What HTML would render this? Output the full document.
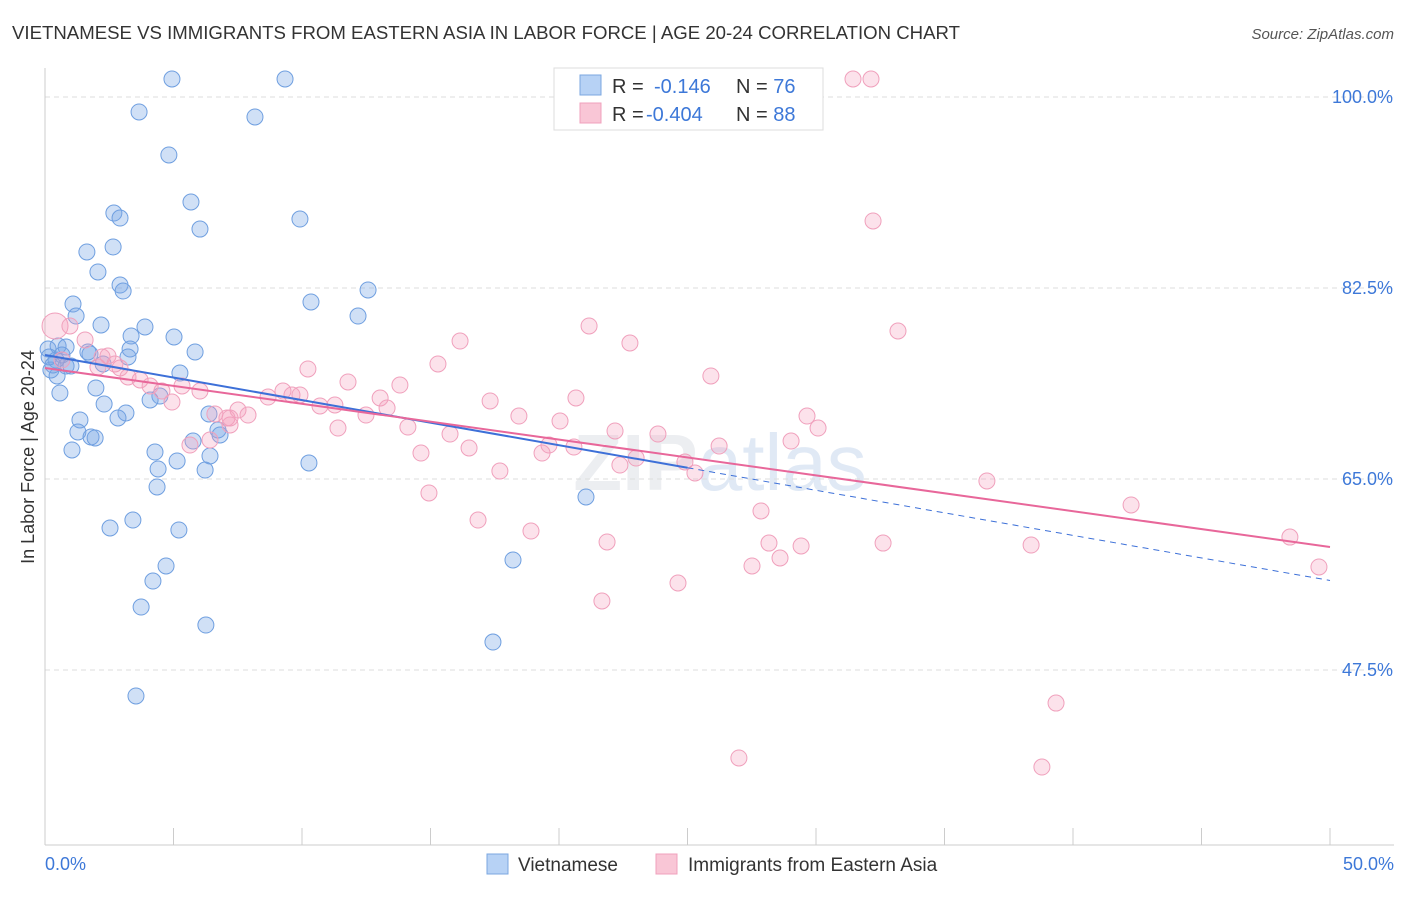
<!DOCTYPE html>
<html><head><meta charset="utf-8"><style>
body{margin:0;background:#fff;font-family:"Liberation Sans",sans-serif;}
svg text{font-family:"Liberation Sans",sans-serif;}
</style></head><body>
<svg id="chart" width="1406" height="892">
<text x="12" y="39" font-size="18" fill="#333" textLength="948" lengthAdjust="spacingAndGlyphs">VIETNAMESE VS IMMIGRANTS FROM EASTERN ASIA IN LABOR FORCE | AGE 20-24 CORRELATION CHART</text>
<text x="1394" y="39" font-size="15" fill="#555" font-style="italic" text-anchor="end">Source: ZipAtlas.com</text>
<text x="720" y="490" font-size="80" fill="#eceef1" text-anchor="middle" font-weight="bold">ZIP<tspan fill="#e0e9f5" font-weight="normal">atlas</tspan></text>
<g id="grid"></g>
<g id="axes"></g>
<g id="marks"></g>
<g id="trends"></g>
<text transform="translate(34,457) rotate(-90)" font-size="18" fill="#333" text-anchor="middle">In Labor Force | Age 20-24</text>
<g>
<rect x="554" y="68" width="269" height="62" fill="#fff" stroke="#ddd"/>
<rect x="580" y="75" width="21" height="20" fill="#b7d2f5" stroke="#7ba7e0"/>
<rect x="580" y="103" width="21" height="20" fill="#f9c6d6" stroke="#f0a0bc"/>
<text x="612" y="93" font-size="20" fill="#333">R = <tspan fill="#3d78d8" x="654">-0.146</tspan><tspan x="736" fill="#333">N = </tspan><tspan fill="#3d78d8">76</tspan></text>
<text x="612" y="121" font-size="20" fill="#333">R = <tspan fill="#3d78d8" x="646">-0.404</tspan><tspan x="736" fill="#333">N = </tspan><tspan fill="#3d78d8">88</tspan></text>
</g>
<g>
<rect x="487" y="854" width="21" height="20" fill="#b7d2f5" stroke="#7ba7e0"/>
<text x="518" y="871" font-size="19" fill="#333">Vietnamese</text>
<rect x="656" y="854" width="21" height="20" fill="#f9c6d6" stroke="#f0a0bc"/>
<text x="688" y="871" font-size="19" fill="#333">Immigrants from Eastern Asia</text>
</g>
</svg>
<script>
const yTicks=[100,82.5,65,47.5];
const yTickLabels=["100.0%","82.5%","65.0%","47.5%"];
const xTickVals=[0,5,10,15,20,25,30,35,40,45,50];
const xEndLabels=["0.0%","50.0%"];
const blueX=[4.94,9.34,3.66,8.17,4.82,5.68,2.68,2.92,9.92,6.03,1.63,2.65,2.06,2.92,3.04,12.57,1.09,10.35,1.21,12.18,2.18,3.89,3.35,5.02,0.12,0.51,0.82,1.75,1.67,3.31,3.23,5.84,0.43,0.82,0.23,1.01,2.26,0.47,5.25,1.98,0.58,4.47,4.09,2.30,3.15,6.38,2.84,1.36,1.28,6.73,1.79,1.95,6.81,5.76,1.05,4.28,6.42,5.14,4.40,6.23,10.27,4.36,21.05,3.42,2.53,5.21,4.71,4.20,3.74,6.26,18.21,17.43,3.54,0.16,0.31,0.66];
const blueY=[101.65,101.65,98.63,98.17,94.69,90.38,89.37,88.91,88.82,87.90,85.80,86.26,83.97,82.77,82.22,82.32,81.03,81.22,79.93,79.93,79.11,78.93,78.10,78.01,76.91,77.19,77.09,76.45,76.64,76.91,76.18,76.64,75.90,75.35,74.99,75.35,75.54,74.44,74.71,73.34,72.88,72.60,72.24,71.87,71.05,70.96,70.59,70.41,69.31,69.49,68.85,68.76,69.03,68.48,67.66,67.47,67.11,66.65,65.92,65.82,66.47,64.27,63.35,61.24,60.51,60.33,57.03,55.65,53.27,51.62,57.58,50.06,45.12,76.18,75.44,76.36];
const pinkX=[31.44,32.14,32.22,33.19,21.17,22.76,16.15,15.29,10.23,25.91,11.79,13.81,20.66,17.32,13.04,18.44,13.31,11.28,10.70,12.49,20.04,14.12,22.18,23.85,19.61,19.34,20.58,16.50,15.76,14.63,11.40,26.23,30.08,29.03,29.65,23.00,24.90,22.37,17.70,25.29,14.94,16.85,18.91,21.87,27.86,27.51,28.17,28.60,29.42,32.61,36.65,42.26,38.37,48.44,49.57,24.63,21.67,39.34,27.00,38.79,0.39,0.97,1.56,0.66,2.22,2.45,2.92,3.23,3.70,4.09,4.55,4.94,5.33,6.03,6.61,7.08,7.51,7.90,8.68,9.26,9.61,9.92,5.64,6.42,7.20,2.06,2.72,7.20];
const pinkY=[101.65,101.65,88.64,78.56,79.02,77.46,77.64,75.54,75.08,74.44,73.89,73.61,72.42,72.15,72.42,70.77,71.50,71.78,71.69,70.86,70.31,69.76,69.40,69.12,68.11,67.38,67.93,67.84,69.12,67.38,69.67,68.02,69.67,68.48,70.77,66.92,66.56,66.28,65.73,65.55,63.72,61.24,60.23,59.23,62.07,57.03,59.13,57.76,58.86,59.13,64.82,62.62,58.95,59.68,56.94,55.47,53.82,44.47,39.44,38.61,79.02,79.02,77.74,75.90,76.18,76.27,75.17,74.35,74.07,73.52,73.06,72.05,73.52,73.06,70.96,70.59,71.32,70.86,72.51,73.06,72.70,72.70,68.11,68.57,69.95,75.26,75.54,70.59];
const blueTrend=[76.36,55.7];
const blueSolidEnd=25;
const pinkTrend=[75.17,58.77];

const NS="http://www.w3.org/2000/svg";
const sx=v=>45+v*25.7;
const sy=v=>97+(100-v)*10.914;
function mk(tag,attrs,parent){const e=document.createElementNS(NS,tag);for(const k in attrs)e.setAttribute(k,attrs[k]);document.getElementById(parent).appendChild(e);return e;}

yTicks.forEach((t,i)=>{
  const g=mk('line',{x1:45,x2:1394,y1:sy(t),y2:sy(t),stroke:'#ddd','stroke-dasharray':'5,4'},'grid');
  
  
  const l=mk('text',{x:1393,y:sy(t)+6,'font-size':18,fill:'#3d78d8','text-anchor':'end'},'grid');
  l.textContent=yTickLabels[i];
  
  
});
const ax=mk('line',{x1:45,x2:45,y1:68,y2:845,stroke:'#ccc'},'axes');


const bx=mk('line',{x1:45,x2:1394,y1:845,y2:845,stroke:'#ccc'},'axes');


xTickVals.forEach(v=>{
  const t=mk('line',{x1:sx(v),x2:sx(v),y1:828,y2:845,stroke:'#ccc'},'axes');
  
  
});
const xl0=mk('text',{x:45,y:870,'font-size':18,fill:'#3d78d8'},'axes');xl0.textContent=xEndLabels[0];


const xl1=mk('text',{x:1394,y:870,'font-size':18,fill:'#3d78d8','text-anchor':'end'},'axes');xl1.textContent=xEndLabels[1];



blueX.forEach((x,i)=>{
  const c=mk('circle',{cx:sx(x),cy:sy(blueY[i]),r:8,fill:'rgba(120,165,230,0.35)',stroke:'#6f9fe0','stroke-width':1},'marks');
  
  
});
pinkX.forEach((x,i)=>{
  const c=mk('circle',{cx:sx(x),cy:sy(pinkY[i]),r:i===60?13:8,fill:'rgba(245,160,190,0.3)',stroke:'#f0a0bc','stroke-width':1},'marks');
  
  
});
const bAt=x=>blueTrend[0]+(blueTrend[1]-blueTrend[0])*x/50;
const t1=mk('line',{x1:sx(0),y1:sy(bAt(0)),x2:sx(blueSolidEnd),y2:sy(bAt(blueSolidEnd)),stroke:'#3d70d8','stroke-width':2},'trends');


const t2=mk('line',{x1:sx(blueSolidEnd),y1:sy(bAt(blueSolidEnd)),x2:sx(50),y2:sy(bAt(50)),stroke:'#3d70d8','stroke-width':1,'stroke-dasharray':'6,5'},'trends');


const t3=mk('line',{x1:sx(0),y1:sy(pinkTrend[0]),x2:sx(50),y2:sy(pinkTrend[1]),stroke:'#e8679a','stroke-width':2},'trends');


</script>
</body></html>
